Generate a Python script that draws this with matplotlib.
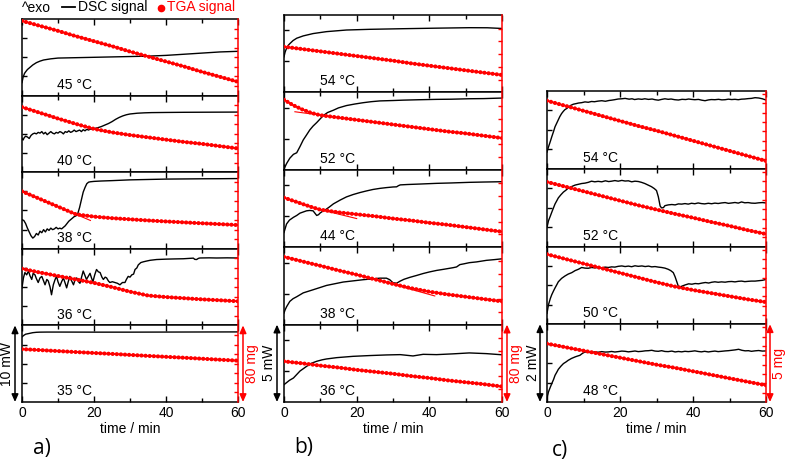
import matplotlib
import numpy as np

matplotlib.use("Agg")
import matplotlib.pyplot as plt  # noqa: E402
import matplotlib.transforms as mtransforms  # noqa: E402
from matplotlib.lines import Line2D  # noqa: E402

plt.rcParams["font.family"] = ["Liberation Sans", "DejaVu Sans"]

W, H = 787, 461

# --- data (y in fraction of each sub-panel height) -------------------------
TGA_T = [0, 2.5, 5, 7.5, 10, 15, 20, 25, 30, 35, 40, 45, 50, 55, 60]

# panel a
temps_a = ["45 °C", "40 °C", "38 °C", "36 °C", "35 °C"]
dsc_a45 = [(0, 0.17), (0.3, 0.24), (0.7, 0.29), (1, 0.31), (1.5, 0.34), (2, 0.36), (3, 0.40), (4, 0.43),
           (5, 0.45), (6, 0.465), (8, 0.48), (10, 0.49), (15, 0.495), (20, 0.50), (25, 0.505), (30, 0.51),
           (35, 0.515), (40, 0.525), (45, 0.54), (50, 0.555), (55, 0.57), (60, 0.578)]
dsc_a40 = [(0, 0.44), (0.3, 0.42), (0.6, 0.45), (1, 0.47), (1.5, 0.46), (2, 0.44), (2.5, 0.48), (3, 0.50),
           (3.5, 0.51), (4, 0.50), (4.5, 0.52), (5, 0.51), (5.5, 0.53), (6, 0.50), (6.5, 0.52), (7, 0.49),
           (7.5, 0.51), (8, 0.53), (8.5, 0.51), (9, 0.50), (9.5, 0.52), (10, 0.51), (10.5, 0.53), (11, 0.52),
           (11.5, 0.50), (12, 0.53), (12.5, 0.52), (13, 0.54), (13.5, 0.52), (14, 0.53), (14.5, 0.55),
           (15, 0.53), (15.5, 0.54), (16, 0.55), (16.5, 0.53), (17, 0.555), (17.5, 0.54), (18, 0.56),
           (18.5, 0.55), (19, 0.565), (19.5, 0.56), (20, 0.57), (21, 0.58), (22, 0.595), (23, 0.615),
           (24, 0.635), (25, 0.66), (26, 0.69), (27, 0.715), (28, 0.735), (29, 0.75), (30, 0.76), (32, 0.77),
           (34, 0.775), (36, 0.778), (40, 0.78), (45, 0.782), (50, 0.783), (55, 0.784), (60, 0.785)]
dsc_a38 = [(0, 0.38), (0.5, 0.37), (1, 0.33), (1.5, 0.27), (2, 0.22), (2.5, 0.17), (3, 0.14), (3.5, 0.16),
           (4, 0.20), (4.5, 0.18), (5, 0.23), (5.5, 0.21), (6, 0.25), (6.5, 0.22), (7, 0.26), (7.5, 0.24),
           (8, 0.27), (8.5, 0.25), (9, 0.26), (9.5, 0.28), (10, 0.26), (10.5, 0.27), (11, 0.26), (11.5, 0.28),
           (12, 0.30), (12.5, 0.33), (13, 0.36), (13.5, 0.38), (14, 0.40), (14.5, 0.42), (15, 0.43),
           (15.5, 0.46), (16, 0.54), (16.5, 0.64), (17, 0.74), (17.5, 0.80), (18, 0.85), (18.5, 0.87),
           (19, 0.875), (20, 0.88), (22, 0.885), (25, 0.89), (30, 0.90), (35, 0.905), (40, 0.91),
           (45, 0.912), (50, 0.914), (55, 0.915), (60, 0.917)]
dsc_a36 = [(0, 0.49), (0.4, 0.62), (0.8, 0.69), (1.3, 0.66), (1.8, 0.71), (2.2, 0.65), (2.7, 0.60),
           (3.1, 0.68), (3.6, 0.66), (4.0, 0.61), (4.5, 0.56), (5.0, 0.62), (5.5, 0.64), (6.0, 0.58),
           (6.4, 0.53), (6.9, 0.60), (7.3, 0.58), (7.8, 0.50), (8.2, 0.40), (8.7, 0.53), (9.2, 0.60),
           (9.6, 0.64), (10.0, 0.57), (10.5, 0.51), (11.0, 0.57), (11.5, 0.62), (12.0, 0.55), (12.4, 0.49),
           (12.9, 0.58), (13.3, 0.64), (13.8, 0.58), (14.3, 0.53), (14.7, 0.59), (15.2, 0.62), (15.7, 0.57),
           (16.1, 0.55), (16.6, 0.64), (17.0, 0.71), (17.5, 0.65), (17.9, 0.60), (18.4, 0.64), (18.9, 0.68),
           (19.3, 0.62), (19.7, 0.57), (20.2, 0.66), (20.7, 0.73), (21.2, 0.70), (21.7, 0.69), (22.2, 0.63),
           (22.6, 0.60), (23.1, 0.63), (23.5, 0.62), (24.0, 0.58), (24.4, 0.56), (25.1, 0.57), (25.8, 0.56),
           (26.5, 0.55), (27.2, 0.53), (27.9, 0.56), (28.6, 0.56), (29.0, 0.60), (29.5, 0.64), (30.0, 0.63),
           (30.5, 0.66), (31.0, 0.67), (31.4, 0.73), (31.9, 0.75), (32.3, 0.79), (33.0, 0.82), (33.7, 0.83),
           (34.6, 0.84), (35.6, 0.85), (37.4, 0.86), (40, 0.865), (42.5, 0.868), (44.8, 0.87), (47.6, 0.878),
           (48.0, 0.862), (48.5, 0.86), (49.0, 0.875), (49.4, 0.88), (52, 0.882), (54, 0.88), (57, 0.882),
           (60, 0.88)]
dsc_a35 = [(0, 0.85), (0.5, 0.87), (1, 0.885), (2, 0.895), (3, 0.905), (4, 0.91), (5, 0.912), (7, 0.913),
           (10, 0.913), (20, 0.912), (30, 0.912), (40, 0.913), (50, 0.914), (60, 0.915)]
tga_a45 = [0.975, 0.943, 0.91, 0.878, 0.845, 0.775, 0.71, 0.645, 0.575, 0.51, 0.445, 0.38, 0.31, 0.245, 0.18]
tga_a40 = [0.85, 0.812, 0.775, 0.738, 0.70, 0.63, 0.565, 0.52, 0.485, 0.455, 0.425, 0.395, 0.37, 0.34, 0.31]
tga_a38 = [0.75, 0.70, 0.65, 0.60, 0.55, 0.45, 0.42, 0.40, 0.385, 0.37, 0.357, 0.345, 0.333, 0.322, 0.31]
tga_a36 = [0.74, 0.715, 0.69, 0.668, 0.645, 0.60, 0.555, 0.50, 0.44, 0.39, 0.37, 0.355, 0.34, 0.328, 0.315]
tga_a35 = [0.69, 0.684, 0.678, 0.671, 0.665, 0.652, 0.64, 0.628, 0.615, 0.602, 0.59, 0.578, 0.565, 0.552, 0.54]
fit_a38 = [(15, 0.45), (19, 0.37)]

# panel b
temps_b = ["54 °C", "52 °C", "44 °C", "38 °C", "36 °C"]
dsc_b54 = [(0, 0.46), (0.3, 0.52), (0.7, 0.57), (1.2, 0.61), (1.6, 0.63), (2.5, 0.67), (3.5, 0.70),
           (5.3, 0.73), (8, 0.76), (11.7, 0.785), (17.2, 0.806), (23.6, 0.815), (32.8, 0.823), (42, 0.83),
           (51, 0.836), (56, 0.835), (60, 0.826)]
dsc_b52 = [(0, 0.01), (0.7, 0.08), (1.6, 0.15), (2.6, 0.20), (3.5, 0.22), (4.4, 0.30), (5.3, 0.386),
           (6.2, 0.45), (7.1, 0.515), (8, 0.565), (9, 0.61), (10.8, 0.70), (12, 0.74), (13.6, 0.77),
           (15, 0.80), (17.2, 0.83), (19.5, 0.85), (21.8, 0.867), (24, 0.88), (26.4, 0.89), (30, 0.895),
           (32.8, 0.90), (37, 0.905), (42, 0.91), (46, 0.912), (51, 0.918), (55, 0.92), (60, 0.927)]
dsc_b44 = [(0, 0.19), (0.7, 0.30), (1.5, 0.35), (2.6, 0.386), (3.5, 0.41), (4.4, 0.44), (5.3, 0.455),
           (6.2, 0.47), (7.1, 0.475), (8, 0.47), (8.5, 0.44), (9, 0.41), (9.5, 0.42), (9.9, 0.44),
           (10.5, 0.46), (11.3, 0.48), (12.5, 0.52), (13.6, 0.56), (15.5, 0.61), (17.2, 0.65), (19, 0.68),
           (20.9, 0.706), (22.7, 0.727), (24.5, 0.746), (26.4, 0.76), (28.2, 0.77), (30, 0.778), (31, 0.78),
           (31.5, 0.795), (32, 0.805), (34, 0.81), (37.4, 0.816), (42, 0.825), (46, 0.83), (51, 0.838),
           (55, 0.842), (60, 0.846)]
dsc_b38 = [(0, 0.15), (0.3, 0.19), (0.7, 0.23), (1.6, 0.30), (2.5, 0.335), (3.5, 0.36), (5.3, 0.41),
           (8, 0.45), (11.7, 0.506), (16.3, 0.55), (21.8, 0.58), (26.4, 0.60), (28.2, 0.60), (29.1, 0.58),
           (30, 0.54), (31, 0.535), (31.9, 0.56), (33, 0.585), (34.6, 0.61), (36.5, 0.635), (38.3, 0.66),
           (40, 0.68), (42, 0.70), (44, 0.715), (46.5, 0.735), (47.5, 0.745), (48.4, 0.775), (49.5, 0.785),
           (51, 0.80), (53, 0.81), (55.7, 0.83), (58, 0.84), (60, 0.85)]
dsc_b36 = [(0, 0.224), (0.7, 0.25), (1.5, 0.28), (2.6, 0.31), (3.5, 0.355), (4.4, 0.40), (5.3, 0.43),
           (6.2, 0.46), (7.5, 0.50), (9, 0.526), (10.5, 0.545), (11.7, 0.556), (14.5, 0.573), (19, 0.59),
           (23.6, 0.60), (28.2, 0.608), (32, 0.612), (35.5, 0.595), (38.3, 0.616), (42, 0.612),
           (46.5, 0.622), (51, 0.634), (55.7, 0.625), (60, 0.61)]
tga_b54 = [0.59, 0.575, 0.56, 0.545, 0.53, 0.50, 0.47, 0.44, 0.41, 0.375, 0.345, 0.315, 0.285, 0.255, 0.225]
tga_b52 = [0.905, 0.835, 0.78, 0.735, 0.705, 0.675, 0.645, 0.615, 0.585, 0.555, 0.525, 0.495, 0.47, 0.44, 0.41]
tga_b44 = [0.64, 0.60, 0.56, 0.52, 0.485, 0.45, 0.425, 0.40, 0.37, 0.345, 0.315, 0.29, 0.26, 0.23, 0.20]
tga_b38 = [0.875, 0.846, 0.817, 0.788, 0.76, 0.70, 0.645, 0.585, 0.525, 0.47, 0.425, 0.39, 0.36, 0.33, 0.30]
tga_b36 = [0.525, 0.512, 0.50, 0.485, 0.47, 0.445, 0.415, 0.39, 0.365, 0.335, 0.31, 0.28, 0.255, 0.23, 0.20]
fit_b52 = [(3, 0.75), (11, 0.70)]
fit_b44 = [(10, 0.485), (20, 0.37)]
fit_b38 = [(30, 0.52), (41.5, 0.37)]

# panel c
temps_c = ["54 °C", "52 °C", "50 °C", "48 °C"]
dsc_c54 = [(0, 0.215), (0.4, 0.28), (0.9, 0.35), (1.3, 0.41), (1.8, 0.48), (2.2, 0.54), (2.7, 0.59),
           (3.1, 0.63), (3.5, 0.67), (4, 0.71), (4.5, 0.74), (4.9, 0.76), (5.4, 0.775), (5.8, 0.79),
           (6.5, 0.815), (7.2, 0.83), (8, 0.838), (8.6, 0.845), (9.5, 0.85), (10.4, 0.86), (11.3, 0.855),
           (12.2, 0.865), (13, 0.862), (14, 0.87), (15, 0.875), (16, 0.868), (17, 0.878), (17.7, 0.882),
           (18.5, 0.888), (19.5, 0.897), (20.5, 0.90), (21.4, 0.905), (22.5, 0.895), (23.3, 0.90),
           (24, 0.89), (25, 0.898), (26, 0.893), (26.8, 0.90), (27.8, 0.892), (28.8, 0.897), (29.6, 0.888),
           (30.5, 0.882), (31.4, 0.892), (32.3, 0.90), (33.2, 0.893), (34, 0.897), (35, 0.888), (36, 0.884),
           (37, 0.893), (38, 0.89), (38.8, 0.897), (39.6, 0.892), (40.5, 0.888), (41.5, 0.892),
           (42.4, 0.882), (43.3, 0.875), (44.2, 0.885), (45, 0.89), (46, 0.888), (47, 0.893), (47.9, 0.886),
           (48.8, 0.888), (49.7, 0.895), (50.6, 0.89), (51.5, 0.893), (52.4, 0.888), (53.3, 0.895),
           (54.2, 0.897), (55.1, 0.902), (56, 0.905), (57, 0.914), (58, 0.91), (59, 0.90), (60, 0.884)]
dsc_c52 = [(0, 0.246), (0.4, 0.33), (0.9, 0.39), (1.3, 0.44), (1.8, 0.50), (2.2, 0.547), (2.7, 0.59),
           (3.1, 0.625), (3.8, 0.665), (4.5, 0.70), (5.2, 0.725), (5.8, 0.75), (6.7, 0.77), (7.7, 0.79),
           (8.6, 0.80), (9.5, 0.81), (10.4, 0.815), (11.3, 0.825), (12.2, 0.84), (13.1, 0.832), (14, 0.838),
           (15, 0.832), (16, 0.845), (16.9, 0.835), (17.7, 0.84), (18.6, 0.848), (19.5, 0.84), (20.5, 0.85),
           (21.4, 0.842), (22.3, 0.845), (23.2, 0.832), (24.1, 0.84), (25, 0.836), (25.9, 0.825),
           (26.8, 0.81), (27.7, 0.79), (28.6, 0.77), (29.4, 0.745), (30, 0.72), (30.5, 0.64), (31, 0.52),
           (31.4, 0.496), (31.9, 0.50), (32.3, 0.525), (33.2, 0.535), (34.2, 0.54), (35.1, 0.535),
           (36, 0.548), (36.9, 0.545), (37.8, 0.552), (38.7, 0.545), (39.6, 0.556), (40.5, 0.55),
           (41.4, 0.56), (42.3, 0.552), (43.2, 0.548), (44.2, 0.556), (45.1, 0.55), (46, 0.558),
           (46.9, 0.553), (47.8, 0.56), (48.8, 0.565), (49.7, 0.555), (50.6, 0.56), (51.5, 0.566),
           (52.4, 0.558), (53.3, 0.573), (54.2, 0.562), (55.1, 0.565), (56, 0.558), (57, 0.556),
           (58, 0.562), (59, 0.565), (60, 0.56)]
dsc_c50 = [(0, 0.14), (0.4, 0.25), (0.9, 0.33), (1.3, 0.38), (1.8, 0.43), (2.2, 0.467), (2.7, 0.51),
           (3.1, 0.546), (4, 0.59), (4.9, 0.62), (5.8, 0.645), (6.8, 0.664), (7.7, 0.69), (8.6, 0.707),
           (9.5, 0.73), (10.4, 0.722), (11.3, 0.72), (12.2, 0.73), (13.1, 0.725), (14.1, 0.73), (15, 0.722),
           (15.9, 0.735), (16.8, 0.73), (17.7, 0.738), (18.6, 0.735), (19.5, 0.745), (20.5, 0.75),
           (21.4, 0.742), (22.3, 0.748), (23.2, 0.74), (24.1, 0.752), (25, 0.745), (26, 0.75), (26.9, 0.742),
           (27.8, 0.748), (28.7, 0.738), (29.6, 0.742), (30.5, 0.735), (31.4, 0.73), (32.3, 0.722),
           (33.2, 0.707), (33.9, 0.69), (34.6, 0.664), (35.1, 0.61), (35.5, 0.555), (35.9, 0.50),
           (36.2, 0.467), (36.6, 0.48), (36.9, 0.489), (37.8, 0.505), (38.8, 0.52), (39.7, 0.515),
           (40.6, 0.524), (41.5, 0.52), (42.5, 0.53), (43.4, 0.537), (44.3, 0.53), (45.1, 0.54), (46, 0.546),
           (46.9, 0.54), (47.8, 0.545), (48.8, 0.541), (49.7, 0.548), (50.6, 0.55), (51.5, 0.545),
           (52.4, 0.552), (53.3, 0.555), (54.2, 0.548), (55.1, 0.552), (56, 0.555), (57, 0.555),
           (58, 0.56), (59, 0.565), (60, 0.576)]
dsc_c48 = [(0, 0.043), (0.4, 0.13), (0.9, 0.19), (1.3, 0.236), (1.8, 0.29), (2.2, 0.343), (2.7, 0.385),
           (3.1, 0.42), (3.8, 0.46), (4.5, 0.494), (5.2, 0.515), (5.8, 0.536), (6.7, 0.56), (7.7, 0.58),
           (8.3, 0.59), (9, 0.60), (9.7, 0.625), (10.4, 0.644), (11.3, 0.638), (12.2, 0.635), (13.1, 0.645),
           (14, 0.64), (15, 0.648), (15.9, 0.642), (16.8, 0.644), (17.7, 0.65), (18.6, 0.643), (19.5, 0.648),
           (20.5, 0.655), (21.4, 0.652), (22.3, 0.645), (23.2, 0.65), (24.1, 0.656), (25, 0.648), (26, 0.652),
           (26.9, 0.658), (27.8, 0.66), (28.7, 0.665), (29.6, 0.655), (30.5, 0.652), (31.4, 0.66),
           (32.3, 0.65), (33.2, 0.648), (34.2, 0.655), (35.1, 0.644), (36, 0.65), (36.9, 0.645),
           (37.8, 0.652), (38.7, 0.648), (39.6, 0.652), (40.5, 0.658), (41.4, 0.65), (42.3, 0.645),
           (43.2, 0.652), (44.2, 0.644), (45.1, 0.65), (46, 0.655), (46.9, 0.648), (47.8, 0.652),
           (48.8, 0.657), (49.7, 0.66), (50.6, 0.665), (51.5, 0.67), (52.5, 0.678), (53.4, 0.665),
           (54.3, 0.658), (55.2, 0.66), (56, 0.652), (57, 0.658), (58, 0.662), (59, 0.655), (60, 0.657)]
tga_c54 = [0.875, 0.842, 0.81, 0.778, 0.745, 0.68, 0.615, 0.55, 0.49, 0.425, 0.36, 0.295, 0.23, 0.165, 0.10]
tga_c52 = [0.83, 0.80, 0.77, 0.74, 0.71, 0.65, 0.59, 0.53, 0.475, 0.42, 0.37, 0.315, 0.265, 0.21, 0.16]
tga_c50 = [0.90, 0.87, 0.84, 0.81, 0.78, 0.72, 0.66, 0.60, 0.54, 0.485, 0.44, 0.40, 0.36, 0.32, 0.285]
tga_c48 = [0.75, 0.728, 0.705, 0.682, 0.66, 0.615, 0.57, 0.525, 0.48, 0.44, 0.395, 0.35, 0.305, 0.26, 0.215]

RED = "#ff0000"

fig = plt.figure(figsize=(W / 100, H / 100), dpi=100, facecolor="white")


def fx(px):
    return px / W


def fy(py):
    return 1 - py / H


def draw_panel(x0, x1, top, bottom, temps, dsc, tga, fits, l_step, r_step,
               mw_label, mg_label, mw_x, mw_text_x, mg_x, mg_text_x):
    n = len(temps)
    h = (bottom - top) / n
    for i in range(n):
        rect = [fx(x0), fy(top + (i + 1) * h), (x1 - x0) / W, h / H]
        ax = fig.add_axes(rect)
        ax2 = ax.twinx()
        ax.set_xlim(0, 60)
        ax.set_ylim(0, 1)
        ax2.set_ylim(0, 1)

        t, v = zip(*dsc[i])
        ax.plot(t, v, color="black", lw=1.0, zorder=3)
        ax.text(9.8, 0.09, temps[i], fontsize=10, ha="left", va="baseline")

        ax2.plot(TGA_T, tga[i], color=RED, lw=1.3)
        ax2.plot(TGA_T, tga[i], color=RED, lw=3.0, ls=(0, (0.01, 0.98)),
                 dash_capstyle="round")
        if i in fits:
            ft, fv = zip(*fits[i])
            ax2.plot(ft, fv, color=RED, lw=0.8)

        ax.set_xticks([0, 20, 40, 60])
        ax.set_xticks([10, 30, 50], minor=True)
        ax.set_yticks(np.arange(l_step, 0.99, l_step))
        ax.tick_params(axis="x", which="both", direction="in", top=True,
                       bottom=True, width=1.0, labelsize=10, pad=3)
        ax.tick_params(axis="x", which="major", length=4.5)
        ax.tick_params(axis="x", which="minor", length=3)
        ax.tick_params(axis="y", direction="in", length=3.5, width=1.0,
                       labelleft=False, left=True, right=False)
        ax2.set_yticks(np.arange(r_step, 0.99, r_step))
        ax2.tick_params(axis="y", direction="in", length=3, width=1.0,
                        colors=RED, labelright=False)

        for side in ("left", "top", "bottom"):
            ax.spines[side].set_linewidth(1.1)
            ax2.spines[side].set_visible(False)
        ax.spines["right"].set_visible(False)
        ax2.spines["right"].set_color(RED)
        ax2.spines["right"].set_linewidth(1.1)

        if i < n - 1:
            ax.tick_params(axis="x", labelbottom=False)
        else:
            ax.set_xticklabels(["0", "20", "40", "60"])
            ax.set_xlabel("time / min", fontsize=10, labelpad=1)

    # scale bars on the bottom sub-panel
    trans = mtransforms.blended_transform_factory(fig.transFigure, ax.transAxes)
    style = "<|-|>,head_length=0.45,head_width=0.2"
    ax.annotate("", xy=(fx(mw_x), 0), xytext=(fx(mw_x), 1), xycoords=trans,
                textcoords=trans, annotation_clip=False,
                arrowprops=dict(arrowstyle=style, color="black", lw=1.1,
                                shrinkA=0, shrinkB=0))
    ax.annotate("", xy=(fx(mg_x), 0), xytext=(fx(mg_x), 1), xycoords=trans,
                textcoords=trans, annotation_clip=False,
                arrowprops=dict(arrowstyle=style, color=RED, lw=1.1,
                                shrinkA=0, shrinkB=0))
    yc = fy(bottom - h / 2)
    fig.text(fx(mw_text_x), yc, mw_label, rotation=90, ha="center",
             va="center", fontsize=10)
    fig.text(fx(mg_text_x), yc, mg_label, rotation=90, ha="center",
             va="center", fontsize=10, color=RED)


draw_panel(22, 238, 19, 402, temps_a,
           [dsc_a45, dsc_a40, dsc_a38, dsc_a36, dsc_a35],
           [tga_a45, tga_a40, tga_a38, tga_a36, tga_a35],
           {2: fit_a38}, 0.25, 0.125, "10 mW", "80 mg", 15, 7, 243, 252)
draw_panel(284, 502, 15, 402, temps_b,
           [dsc_b54, dsc_b52, dsc_b44, dsc_b38, dsc_b36],
           [tga_b54, tga_b52, tga_b44, tga_b38, tga_b36],
           {1: fit_b52, 2: fit_b44, 3: fit_b38}, 0.4, 0.165, "5 mW", "80 mg",
           277, 269, 507, 516)
draw_panel(547, 766, 91, 402, temps_c,
           [dsc_c54, dsc_c52, dsc_c50, dsc_c48],
           [tga_c54, tga_c52, tga_c50, tga_c48],
           {}, 0.25, 0.12, "2 mW", "5 mg", 540, 533, 770, 779)

# header legend
base = fy(11.5)
fig.text(fx(22), base, "^exo", fontsize=10, va="baseline")
fig.add_artist(Line2D([fx(62), fx(75)], [fy(7.5), fy(7.5)], color="black",
                      lw=1.3))
fig.text(fx(78), base, "DSC signal", fontsize=10, va="baseline")
fig.add_artist(Line2D([fx(161)], [fy(8)], marker="o", color=RED,
                      markersize=4.5, ls="none"))
fig.text(fx(167), base, "TGA signal", fontsize=10, va="baseline", color=RED)

# panel letters
for label, x, y in (("a)", 42, 448), ("b)", 304, 447), ("c)", 560, 450)):
    fig.text(fx(x), fy(y), label, fontsize=15, ha="center", va="center",
             family=["Open Sans", "DejaVu Sans"])

fig.savefig("out.png", dpi=100, facecolor="white")
